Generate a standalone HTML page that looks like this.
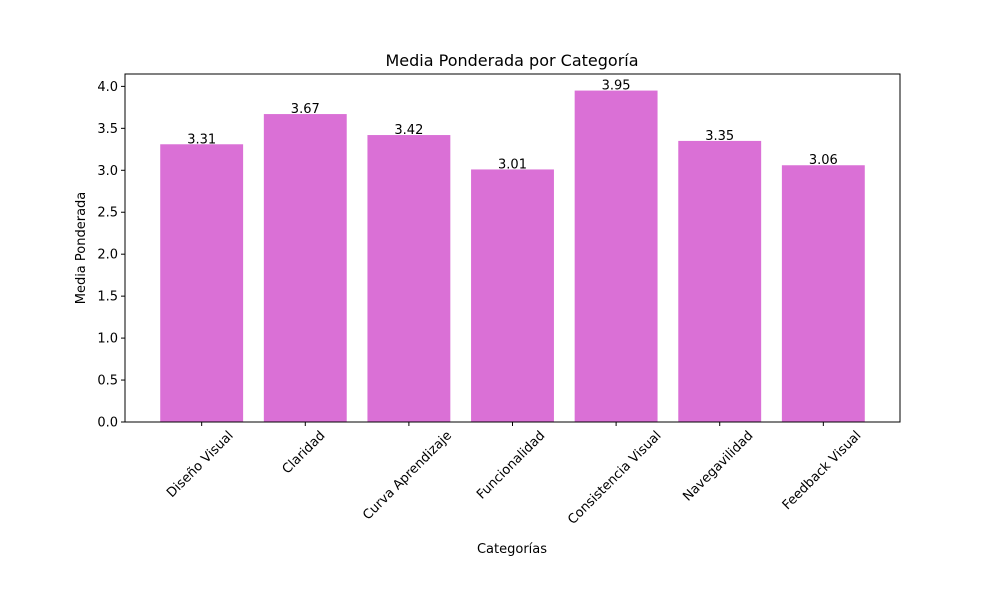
<!DOCTYPE html>
<html><head><meta charset="utf-8"><style>body{margin:0;background:#fff}svg text{font-family:"DejaVu Sans","Liberation Sans",sans-serif}</style></head>
<body>
<svg id="chart" width="1000" height="600" xmlns="http://www.w3.org/2000/svg">
<rect width="1000" height="600" fill="#fff"/>
<text x="512" y="66" font-size="16" text-anchor="middle">Media Ponderada por Categoría</text>
<text x="512" y="553" font-size="13" text-anchor="middle">Categorías</text>
<text transform="translate(85,248) rotate(-90)" font-size="13" text-anchor="middle">Media Ponderada</text>
<g id="bars"></g><g id="axes"></g>
</svg>
<script>
const categories = ["Diseño Visual","Claridad","Curva Aprendizaje","Funcionalidad","Consistencia Visual","Navegavilidad","Feedback Visual"];
const values = [3.31,3.67,3.42,3.01,3.95,3.35,3.06];
const yTicks = [0,0.5,1.0,1.5,2.0,2.5,3.0,3.5,4.0];
const L=125,R=900,T=74,B=422;
const ymax=Math.max(...values)*1.05;
const xmin=-0.4-0.05*(categories.length-1+0.8), xmax=categories.length-1+0.4+0.05*(categories.length-1+0.8);
const xs=v=>L+(v-xmin)/(xmax-xmin)*(R-L);
const ys=v=>B-v/ymax*(B-T);
const NS="http://www.w3.org/2000/svg";
const bars=document.getElementById('bars'), axes=document.getElementById('axes');
function mk(tag,attrs,parent,txt){const e=document.createElementNS(NS,tag);for(const k in attrs)e.setAttribute(k,attrs[k]);if(txt!==undefined)e.textContent=txt;parent.appendChild(e);return e;}
categories.forEach((c,i)=>{
  const x0=xs(i-0.4),x1=xs(i+0.4);
  const r=mk('rect',{x:x0,y:ys(values[i]),width:x1-x0,height:B-ys(values[i]),fill:'#DA70D6'},bars);
  
  
  const t=mk('text',{x:xs(i),y:ys(values[i])-1,'font-size':13,'text-anchor':'middle'},bars,values[i].toFixed(2));
  
  
  mk('line',{x1:xs(i),x2:xs(i),y1:B,y2:B+4,stroke:'#000'},axes);
  const tl=mk('text',{'font-size':13,'text-anchor':'middle'},axes,c);
  
  
  const len=tl.getComputedTextLength();
  const half=(len+14)*0.7071/2;
  tl.setAttribute('transform',`translate(${xs(i)-2},${B+6+half}) rotate(-45) translate(0,4.5)`);
});
yTicks.forEach(v=>{
  mk('line',{x1:L-4,x2:L,y1:ys(v),y2:ys(v),stroke:'#000'},axes);
  const t=mk('text',{x:L-7,y:ys(v)+4.5,'font-size':13,'text-anchor':'end'},axes,v.toFixed(1));
  
  
});
const f=mk('rect',{x:L,y:T,width:R-L,height:B-T,fill:'none',stroke:'#000','stroke-width':1},axes);


</script>
</body></html>
